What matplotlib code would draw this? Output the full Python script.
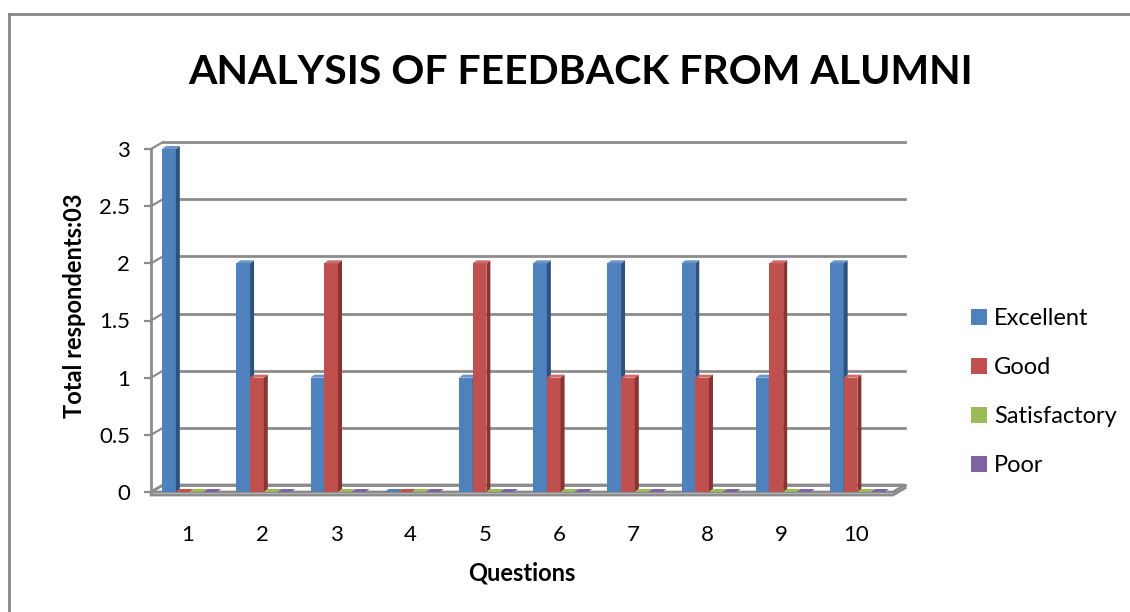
import matplotlib
matplotlib.use('Agg')
import matplotlib.pyplot as plt
from matplotlib.patches import Polygon, Patch
from matplotlib.lines import Line2D

questions = ['1', '2', '3', '4', '5', '6', '7', '8', '9', '10']
excellent = [3, 2, 1, 0, 1, 2, 2, 2, 1, 2]
good = [0, 1, 2, 0, 2, 1, 1, 1, 2, 1]
satisfactory = [0, 0, 0, 0, 0, 0, 0, 0, 0, 0]
poor = [0, 0, 0, 0, 0, 0, 0, 0, 0, 0]
series_names = ['Excellent', 'Good', 'Satisfactory', 'Poor']
yticks = [0, 0.5, 1, 1.5, 2, 2.5, 3]
ytick_labels = ['0', '0.5', '1', '1.5', '2', '2.5', '3']

front_colors = ['#4F81BD', '#C0504D', '#9BBB59', '#8064A2']
side_colors = ['#2F5180', '#8A3432', '#6E8A3A', '#5A4476']
top_colors = ['#6A95CC', '#CF6A67', '#AFCB72', '#9580B5']
grid_color = '#8C8C8C'

plt.rcParams['font.family'] = ['Lato', 'DejaVu Sans']

W, H = 1130, 612
fig = plt.figure(figsize=(W / 100, H / 100), dpi=100)
ax = fig.add_axes([151 / W, (H - 492) / H, (893 - 151) / W, (492 - 149) / H])
ax.set_xlim(0.5, 10.5)
ax.set_ylim(0, 3)
for s in ax.spines.values():
    s.set_visible(False)
ax.patch.set_alpha(0)

x0, x1 = ax.get_xlim()
sx = (x1 - x0) / ax.bbox.width
sy = 3 / ax.bbox.height

# back wall offset
bdx, bdy = 12 * sx, 7 * sy

# floor
floor = Polygon([(x0, 0), (x1, 0), (x1 + bdx, bdy), (x0 + bdx, bdy)],
                closed=True, facecolor='white', edgecolor=grid_color, lw=2,
                zorder=1, clip_on=False)
ax.add_patch(floor)
ax.plot([x0, x1, x1 + bdx], [-3 * sy, -3 * sy, bdy - 3 * sy], color=grid_color,
        lw=2, clip_on=False, zorder=1)

# gridlines on back wall and side diagonals
for v in yticks:
    ax.plot([x0 + bdx, x1 + bdx], [v + bdy, v + bdy], color=grid_color, lw=2,
            clip_on=False, zorder=1)
    ax.plot([x0, x0 + bdx], [v, v + bdy], color=grid_color, lw=1.6,
            clip_on=False, zorder=1)
ax.plot([x0, x0], [0, 3], color=grid_color, lw=2, clip_on=False, zorder=1)

# bars
series = [excellent, good, satisfactory, poor]
bw = 0.185
ddx, ddy = 4 * sx, 3 * sy
xs = list(range(1, len(questions) + 1))
for i, xc in enumerate(xs):
    for j, vals in enumerate(series):
        v = vals[i]
        xl = xc + (j - 2) * bw + 0.02
        xr = xl + bw
        z = 3 + j
        if v > 0:
            ax.bar(xl, v, width=bw, align='edge', color=front_colors[j],
                   edgecolor='none', zorder=z)
            ax.add_patch(Polygon([(xr, 0), (xr + ddx, ddy), (xr + ddx, v + ddy), (xr, v)],
                                 closed=True, facecolor=side_colors[j], edgecolor='none',
                                 zorder=z, clip_on=False))
            ax.add_patch(Polygon([(xl, v), (xr, v), (xr + ddx, v + ddy), (xl + ddx, v + ddy)],
                                 closed=True, facecolor=top_colors[j], edgecolor='none',
                                 zorder=z, clip_on=False))
        else:
            ax.add_patch(Polygon([(xl, 0), (xr, 0), (xr + ddx, ddy), (xl + ddx, ddy)],
                                 closed=True, facecolor=front_colors[j], edgecolor='none',
                                 zorder=z, clip_on=False))

ax.set_xticks(xs)
ax.set_xticklabels(questions, fontsize=16)
ax.tick_params(axis='x', length=0, pad=24)
ax.set_yticks(yticks)
ax.set_yticklabels(ytick_labels, fontsize=16)
ax.tick_params(axis='y', length=5, width=1.6, color=grid_color, pad=10)

ax.set_xlabel('Questions', fontsize=17, fontweight='bold', labelpad=12)
fig.text(75 / W, 1 - 306 / H, 'Total respondents:03', rotation=90, fontsize=17,
         fontweight='bold', ha='center', va='center')

fig.text(581 / W, 1 - 73 / H, 'ANALYSIS OF FEEDBACK FROM ALUMNI', fontsize=29.5,
         fontweight='bold', ha='center', va='center')

handles = [Patch(facecolor=c, edgecolor='none') for c in front_colors]
fig.legend(handles, series_names, loc='upper left',
           bbox_to_anchor=(962 / W, 1 - 299 / H), frameon=False, fontsize=17,
           handlelength=0.65, handleheight=0.65, handletextpad=0.3,
           labelspacing=1.18, borderaxespad=0)

# outer border (top and left)
fig.add_artist(Line2D([9 / W, 1], [1 - 14 / H, 1 - 14 / H], color='#878787', lw=2,
                      transform=fig.transFigure))
fig.add_artist(Line2D([9 / W, 9 / W], [1 - 14 / H, 0], color='#878787', lw=2,
                      transform=fig.transFigure))

fig.savefig('out.png', dpi=100)
